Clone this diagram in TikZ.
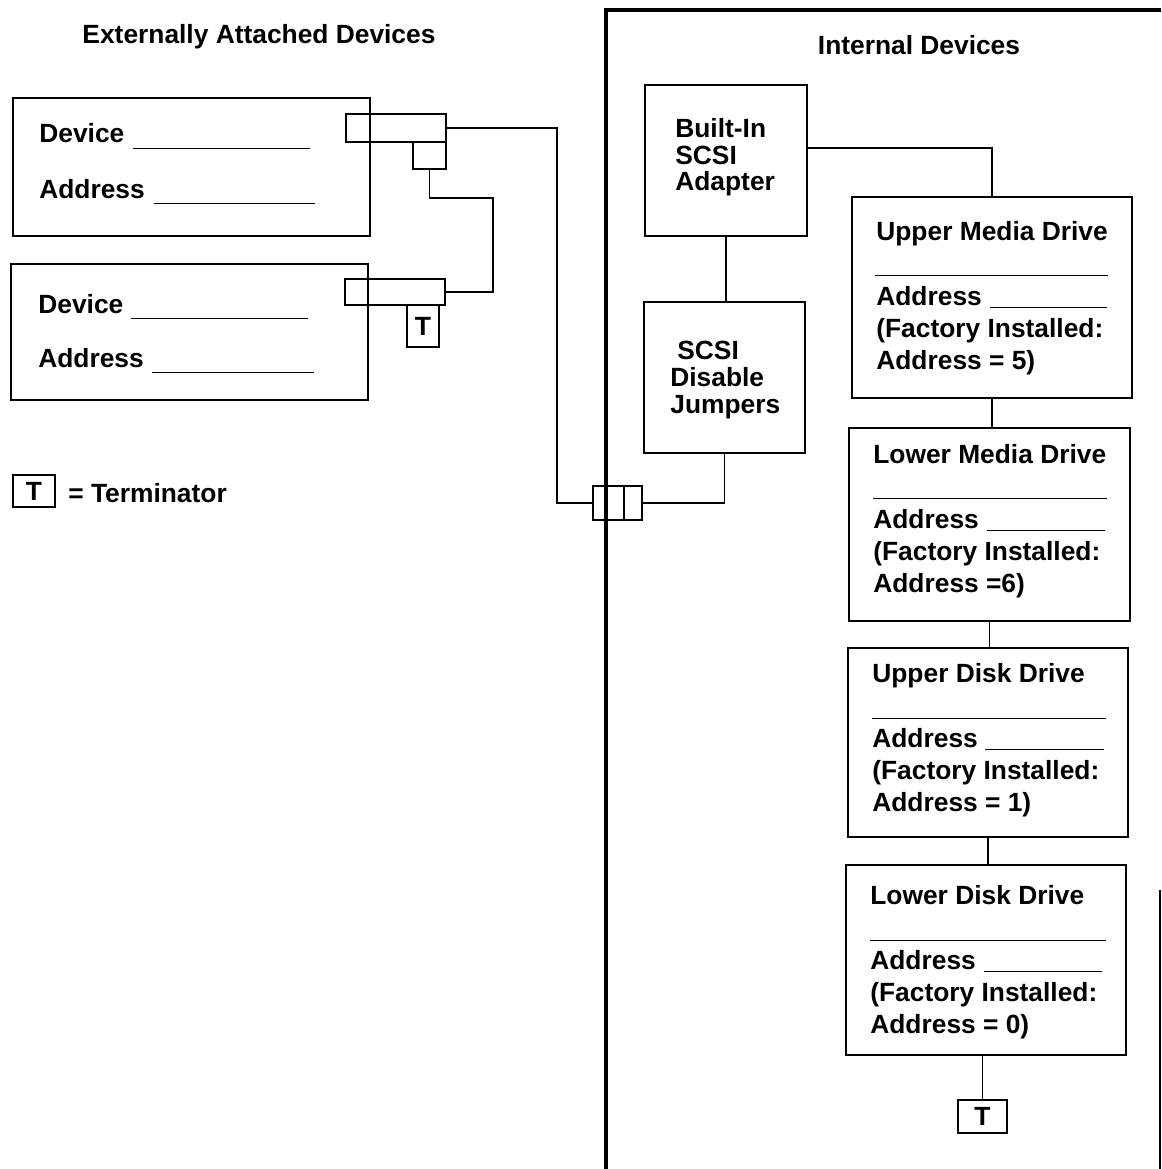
\documentclass[tikz,border=0pt]{standalone}
\usepackage{fontspec}
\setmainfont{Liberation Sans}
\usetikzlibrary{fit}

\tikzset{
  box/.style={draw, line width=1.1pt, inner sep=0pt},
  plug/.style={draw, line width=0.9pt, inner sep=0pt},
  tlabel/.style={label={[font=\bfseries\fontsize{15}{18}\selectfont, inner sep=0pt]center:T}},
  wire/.style={line width=0.9pt},
  thinwire/.style={line width=0.6pt},
  panel/.style={line width=2.3pt},
  blank/.style={line width=0.5pt},
  lbl/.style={font=\bfseries\fontsize{15}{18}\selectfont, inner sep=0pt, align=left},
  body/.style={font=\bfseries\fontsize{15}{18.2}\selectfont, inner sep=0pt, align=left},
  tight/.style={font=\bfseries\fontsize{15}{15.2}\selectfont, inner sep=0pt, align=left},
}

\begin{document}
\begin{tikzpicture}[x=0.02cm, y=-0.02cm]
\useasboundingbox (0,0) rectangle (1161,1169);

% titles
\node[lbl] (exttitle) at (259,37) {Externally Attached Devices};
\node[lbl] (inttitle) at (919,45) {Internal Devices};

% system unit wall
\draw[panel] (1161,10) -| (606,1169);
\draw[thinwire] (1160,890) -- (1160,1169);

% externally attached devices
\node[box, fit={(13,98) (370,236)}] (dev1) {};
\node[lbl, anchor=base west] (dev1name) at (39,143) {Device};
\draw[blank] (133,148) -- (310,148);
\node[lbl, anchor=base west] (dev1addr) at (39,198) {Address};
\draw[blank] (154,203) -- (315,203);

\node[box, fit={(11,264) (368,400)}] (dev2) {};
\node[lbl, anchor=base west] (dev2name) at (38,313) {Device};
\draw[blank] (131,318) -- (308,318);
\node[lbl, anchor=base west] (dev2addr) at (38,367) {Address};
\draw[blank] (152,372) -- (314,372);

% cable plugs
\node[plug, fit={(346,114) (446,142)}] (plug1) {};
\node[plug, fit={(413,142) (446,169)}] (plug1b) {};
\node[plug, fit={(345,279) (445,305)}] (plug2) {};
\node[plug, tlabel, fit={(407,305) (439,347)}] (term1) {};

% legend
\node[plug, tlabel, fit={(13,475) (55,507)}] (termkey) {};
\node[lbl, anchor=base west] (termtext) at (68,502) {= Terminator};

% feed-through connector
\node[plug, fit={(593,486) (642,520)}] (thru) {};
\draw[wire] (624,486) -- (624,520);

% external cabling
\coordinate (drop) at (557,300);
\coordinate (chain) at (493,250);
\draw[wire] (plug1.east) -| (drop) |- (thru.west);
\draw[wire] (plug1b.south) -- ++(0,28) -| (chain) |- (plug2.east);

% internal devices
\node[box, fit={(645,85) (807,236)}] (adapter) {};
\node[tight, anchor=base west] (adaptertext) at (675,191) {Built-In\\SCSI\\Adapter};
\node[box, fit={(644,302) (805,453)}] (jumpers) {};
\node[tight, anchor=base west] (jumperstext) at (670,413) {\hspace{4pt}SCSI\\Disable\\Jumpers};

\node[box, fit={(852,197) (1132,398)}] (umd) {};
\node[lbl, anchor=base west] (umdtitle) at (876,240) {Upper Media Drive};
\draw[blank] (875,275) -- (1108,275);
\node[body, anchor=base west] (umdaddr) at (876,369) {Address\\(Factory Installed:\\Address = 5)};
\draw[blank] (990,307) -- (1107,307);

\node[box, fit={(849,428) (1130,621)}] (lmd) {};
\node[lbl, anchor=base west] (lmdtitle) at (873,463) {Lower Media Drive};
\draw[blank] (873,498) -- (1107,498);
\node[body, anchor=base west] (lmdaddr) at (873,592) {Address\\(Factory Installed:\\Address =6)};
\draw[blank] (987,530) -- (1105,530);

\node[box, fit={(848,648) (1128,837)}] (udd) {};
\node[lbl, anchor=base west] (uddtitle) at (872,682) {Upper Disk Drive};
\draw[blank] (872,718) -- (1106,718);
\node[body, anchor=base west] (uddaddr) at (872,811) {Address\\(Factory Installed:\\Address = 1)};
\draw[blank] (985,749) -- (1104,749);

\node[box, fit={(846,865) (1126,1055)}] (ldd) {};
\node[lbl, anchor=base west] (lddtitle) at (870,904) {Lower Disk Drive};
\draw[blank] (870,940) -- (1106,940);
\node[body, anchor=base west] (lddaddr) at (870,1033) {Address\\(Factory Installed:\\Address = 0)};
\draw[blank] (984,971) -- (1102,971);

\node[plug, tlabel, fit={(958,1100) (1007,1133)}] (term2) {};

% internal cabling
\draw[wire] (thru.east) -| (jumpers.south);
\draw[wire] (adapter.south) -- (adapter.south |- jumpers.north);
\draw[wire] ([yshift=0.25cm]adapter.east) -| (umd.north);
\draw[thinwire] (umd.south) -- (umd.south |- lmd.north);
\draw[thinwire] (lmd.south) -- (lmd.south |- udd.north);
\draw[thinwire] (udd.south) -- (udd.south |- ldd.north);
\draw[thinwire] (term2.north |- ldd.south) -- (term2.north);
\end{tikzpicture}
\end{document}
